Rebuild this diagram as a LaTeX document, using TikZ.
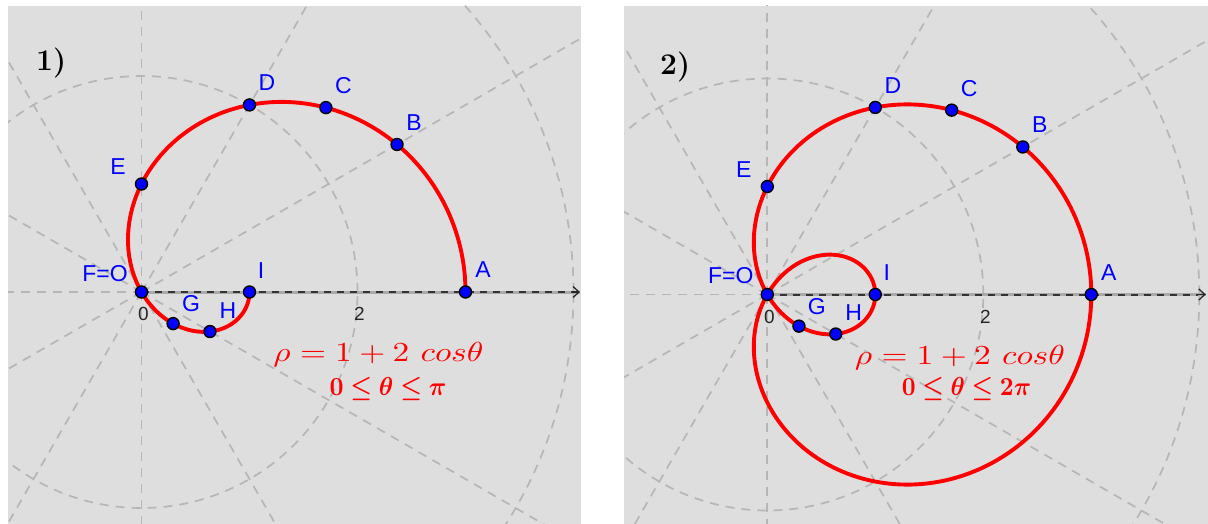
\documentclass[tikz,border=0pt]{standalone}
\usepackage{graphicx}
\usepackage{fontspec}
\usepackage{bm}
\usetikzlibrary{arrows.meta}
\newfontfamily\labfont{Liberation Sans}
\definecolor{bggray}{RGB}{222,222,222}
\definecolor{gridgray}{RGB}{182,182,182}
\definecolor{axgray}{RGB}{170,170,170}
\definecolor{ptblue}{RGB}{0,0,255}
\definecolor{cred}{RGB}{255,0,0}
\tikzset{
  panelbg/.style={fill=bggray},
  gridline/.style={draw=gridgray, line width=1.7pt, dash pattern=on 9pt off 7pt},
  axisbase/.style={draw=axgray, line width=3pt},
  axisdash/.style={draw=black!80, line width=2pt, dash pattern=on 7pt off 6pt},
  axisarrow/.style={draw=black!85, line width=1.3pt, -{Straight Barb[length=6pt,width=11pt]}},
  curve/.style={draw=cred, line width=3.9pt, line join=round, line cap=round},
  ptdot/.style={circle, fill=ptblue, draw=black, line width=1.4pt, minimum size=12pt, inner sep=0pt},
  ptlabel/.style={text=ptblue, font=\labfont\fontsize{23}{23}\selectfont, inner sep=0pt},
  ticklabel/.style={text=black!85, font=\labfont\fontsize{19}{19}\selectfont, inner sep=0pt},
  formula/.style={text=cred, inner sep=0pt},
  panellabel/.style={font=\fontsize{30}{30}\selectfont\bfseries, inner sep=0pt},
}
\newcommand\polarpanel[6]{%
  % #1 prefix, #2 ox, #3 oy, #4 clip rectangle, #5 max angle, #6 axis end
  \begin{scope}
    \clip #4;
    \begin{scope}[shift={(#2,#3)}, x=108pt, y=108pt]
      \foreach \a in {30,60,...,330} \draw[gridline] (0,0) -- (\a:6);
      \draw[gridline] (0,0) circle (2);
      \draw[gridline] (0,0) circle (4);
      \coordinate (#1O) at (0,0);
      \coordinate (#1axend) at (#6,0);
      \coordinate (#1axpre) at ({#6-0.07},0);
      \draw[axisbase] (#1O) -- (#1axend);
      \draw[axisdash] (#1O) -- (#1axpre);
      \draw[axisarrow] (#1axpre) -- (#1axend);
      \node[ticklabel] (#1t0) at ([xshift=2pt,yshift=-22pt]#1O) {0};
      \node[ticklabel] (#1t2) at ([xshift=2pt,yshift=-22pt]2,0) {2};
      \draw[curve] plot[domain=0:#5, samples=361, variable=\t]
        ({(1+2*cos(\t))*cos(\t)}, {(1+2*cos(\t))*sin(\t)});
      \foreach \n/\ang/\dx/\dy/\txt in {A/0/17.5/22/A, B/30/17/22/B, C/45/17.5/22/C,
          D/60/17.5/22/D, E/90/-23.5/17/E, F/120/-36.5/18.5/F=O, G/135/18/20/G,
          H/150/18/21/H, I/180/11.5/21.5/I} {
        \node[ptdot] (#1\n) at ({(1+2*cos(\ang))*cos(\ang)}, {(1+2*cos(\ang))*sin(\ang)}) {};
        \node[ptlabel] (#1\n lab) at ([xshift=\dx pt, yshift=\dy pt]#1\n.center) {\txt};
      }
    \end{scope}
  \end{scope}
}
\begin{document}
\begin{tikzpicture}[x=1pt,y=-1pt]
  \useasboundingbox (0,0) rectangle (1208,524);
  \fill[white] (0,0) rectangle (1208,524);
  \fill[panelbg] (8,6) rectangle (581,524);
  \fill[panelbg] (624,6) rectangle (1208,524);
  \polarpanel{l}{141.5}{292}{(8,6) rectangle (581,524)}{180}{4.06}
  \polarpanel{r}{767.3}{294.5}{(624,6) rectangle (1208,524)}{360}{4.06}
  \node[panellabel, anchor=base west] (lab1) at (36,71) {1)};
  \node[panellabel, anchor=base west] (lab2) at (660,75) {2)};
  \node[formula, anchor=base] (f1) at (378.5,361) {\scalebox{3.34}[2.75]{$\rho = 1 + 2\ cos\theta$}};
  \node[formula, anchor=base] (g1) at (388,395) {\scalebox{2.44}[2.6]{$\bm{0 \le \theta \le \pi}$}};
  \node[formula, anchor=base] (f2) at (960,364.3) {\scalebox{3.34}[2.75]{$\rho = 1 + 2\ cos\theta$}};
  \node[formula, anchor=base] (g2) at (966.5,395) {\scalebox{2.41}[2.6]{$\bm{0 \le \theta \le 2\pi}$}};
\end{tikzpicture}
\end{document}
